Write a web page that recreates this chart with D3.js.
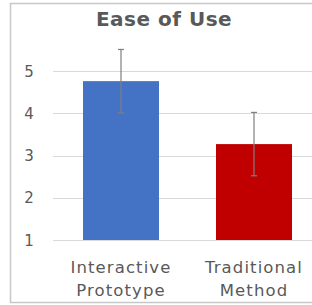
<!DOCTYPE html>
<html>
<head>
<meta charset="utf-8">
<script src="https://cdn.jsdelivr.net/npm/d3@7"></script>
<style>
  body { margin: 0; background: #fff; }
  text { font-family: "DejaVu Sans", Verdana, sans-serif; fill: #595959; }
</style>
</head>
<body>
<div id="chart"></div>
<script>
const categories = [['Interactive', 'Prototype'], ['Traditional', 'Method']];
const means = [4.76, 3.27];
const errors = [0.75, 0.75];
const colors = ['#4472C4', '#C00000'];
const yTicks = [1, 2, 3, 4, 5];

const width = 312, height = 305;
const margin = {top: 0, left: 53, right: 0, bottom: 0};

const svg = d3.select('#chart').append('svg')
  .attr('width', width)
  .attr('height', height);

// chart area frame
svg.append('rect')
  .attr('x', 10.5).attr('y', 3.5)
  .attr('width', 320).attr('height', 299)
  .attr('fill', 'none')
  .attr('stroke', '#c8c8c8')
  .attr('stroke-width', 1.5);

svg.append('text')
  .attr('x', 164).attr('y', 26)
  .attr('text-anchor', 'middle')
  .attr('font-size', 20)
  .attr('font-weight', 'bold')
  .attr('letter-spacing', 0.5)
  .text('Ease of Use');

const yScale = d3.scaleLinear().domain([1, 5]).range([240, 71]);
const xScale = d3.scaleBand()
  .domain(d3.range(categories.length))
  .range([margin.left, 322])
  .paddingInner(0.4286)
  .paddingOuter(0.2256);

// gridlines
svg.append('g').selectAll('line')
  .data(yTicks)
  .enter().append('line')
  .attr('x1', margin.left).attr('x2', width)
  .attr('y1', d => Math.round(yScale(d)) + 0.5)
  .attr('y2', d => Math.round(yScale(d)) + 0.5)
  .attr('stroke', '#d9d9d9');

// y labels
svg.append('g').selectAll('text')
  .data(yTicks)
  .enter().append('text')
  .attr('x', 29)
  .attr('y', d => yScale(d) + 5.5)
  .attr('text-anchor', 'middle')
  .attr('font-size', 15)
  .text(d => d);

// bars
svg.append('g').selectAll('rect')
  .data(means)
  .enter().append('rect')
  .attr('x', (d, i) => xScale(i))
  .attr('width', xScale.bandwidth())
  .attr('y', d => yScale(d))
  .attr('height', d => yScale(1) - yScale(d))
  .attr('fill', (d, i) => colors[i]);

// error bars
const eb = svg.append('g').selectAll('g')
  .data(means)
  .enter().append('g')
  .attr('stroke', '#7f7f7f')
  .attr('stroke-width', 1.2);

eb.append('line')
  .attr('x1', (d, i) => xScale(i) + xScale.bandwidth() / 2)
  .attr('x2', (d, i) => xScale(i) + xScale.bandwidth() / 2)
  .attr('y1', (d, i) => yScale(d + errors[i]))
  .attr('y2', (d, i) => yScale(d - errors[i]));

[1, -1].forEach(s => {
  eb.append('line')
    .attr('x1', (d, i) => xScale(i) + xScale.bandwidth() / 2 - 3)
    .attr('x2', (d, i) => xScale(i) + xScale.bandwidth() / 2 + 3)
    .attr('y1', (d, i) => yScale(d + s * errors[i]))
    .attr('y2', (d, i) => yScale(d + s * errors[i]));
});

// category labels
const cl = svg.append('g').selectAll('text')
  .data(categories)
  .enter().append('text')
  .attr('x', (d, i) => xScale(i) + xScale.bandwidth() / 2)
  .attr('text-anchor', 'middle')
  .attr('font-size', 16.5)
  .attr('letter-spacing', 1.1);

cl.append('tspan')
  .attr('x', (d, i) => xScale(i) + xScale.bandwidth() / 2)
  .attr('y', 273)
  .text(d => d[0]);
cl.append('tspan')
  .attr('x', (d, i) => xScale(i) + xScale.bandwidth() / 2)
  .attr('y', 296)
  .text(d => d[1]);
</script>
</body>
</html>
